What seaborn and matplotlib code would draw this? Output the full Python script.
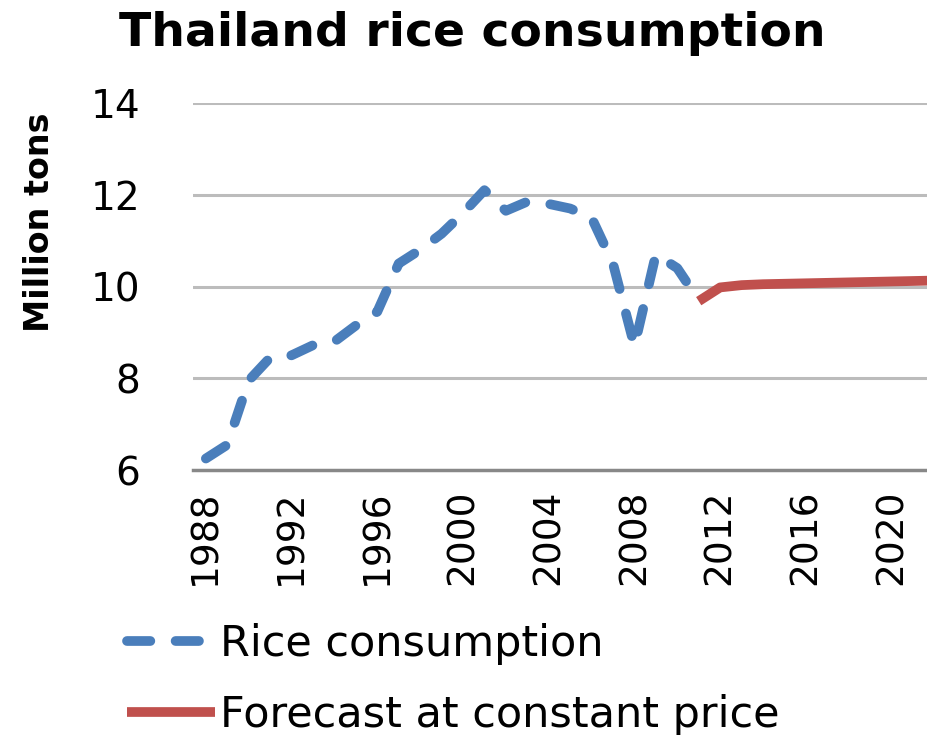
import pandas as pd
import matplotlib.pyplot as plt
import seaborn as sns

# Values (million tons)
years = list(range(1988, 2012))
rice_consumption = [6.25, 6.55, 7.95, 8.45, 8.5, 8.72, 8.8, 9.15, 9.45, 10.5,
                    10.8, 11.15, 11.6, 12.1, 11.65, 11.85, 11.8, 11.7, 11.5,
                    10.5, 8.7, 10.7, 10.4, 9.7]
forecast_years = list(range(2011, 2023))
forecast = [9.68, 9.98, 10.03, 10.05, 10.06, 10.07, 10.08, 10.09, 10.1,
            10.11, 10.12, 10.13]
year_ticks = list(range(1988, 2021, 4))
value_ticks = [6, 8, 10, 12, 14]

BLUE = "#4a7ebb"
RED = "#c0504d"


def main():
    sns.set_theme(style="white")
    plt.rcParams["font.family"] = ["DejaVu Sans"]
    plt.rcParams["text.color"] = "black"
    plt.rcParams["xtick.color"] = "black"
    plt.rcParams["ytick.color"] = "black"

    hist = pd.DataFrame({"year": years, "tons": rice_consumption})
    fc = pd.DataFrame({"year": forecast_years, "tons": forecast})

    fig = plt.figure(figsize=(9.28, 7.35), dpi=100)
    ax = fig.add_axes([193 / 928, 1 - 470 / 735, 1 - 193 / 928, 367 / 735])

    # gridlines first so the series sit on top
    for v in value_ticks[1:]:
        ax.axhline(v, color="#bcbcbc", lw=2.2, zorder=1)

    sns.lineplot(data=hist, x="year", y="tons", ax=ax, color=BLUE, lw=7,
                 label="Rice consumption", zorder=3)
    ax.lines[-1].set_dashes((2.4, 2.6))
    ax.lines[-1].set_dash_capstyle("round")

    sns.lineplot(data=fc, x="year", y="tons", ax=ax, color=RED, lw=7,
                 label="Forecast at constant price", zorder=4)
    ax.lines[-1].set_solid_capstyle("butt")

    ax.set_xlim(1987.4, 2021.7)
    ax.set_ylim(6, 14)
    ax.set_xticks(year_ticks)
    ax.set_yticks(value_ticks)
    ax.set_xlabel("")
    ax.set_ylabel("")
    ax.tick_params(axis="x", labelsize=27, rotation=90, length=0, pad=14)
    ax.tick_params(axis="y", labelsize=28, length=0, pad=38)

    for side in ["top", "right", "left"]:
        ax.spines[side].set_visible(False)
    ax.spines["bottom"].set_color("#888888")
    ax.spines["bottom"].set_linewidth(2.5)

    ax.get_legend().remove()
    handles, labels = ax.get_legend_handles_labels()
    fig.legend(handles, labels, loc="upper left",
               bbox_to_anchor=(110 / 928, 1 - 606 / 735),
               frameon=False, fontsize=31, handlelength=2.05,
               handletextpad=0.1, labelspacing=0.68, borderaxespad=0)

    fig.text(472 / 928, 1 - 33 / 735, "Thailand rice consumption",
             ha="center", va="center", fontsize=34, fontweight="bold")
    fig.text(40 / 928, 1 - 222 / 735, "Million tons", rotation=90,
             ha="center", va="center", fontsize=24, fontweight="bold")

    fig.savefig("out.png", dpi=100)


if __name__ == "__main__":
    main()
